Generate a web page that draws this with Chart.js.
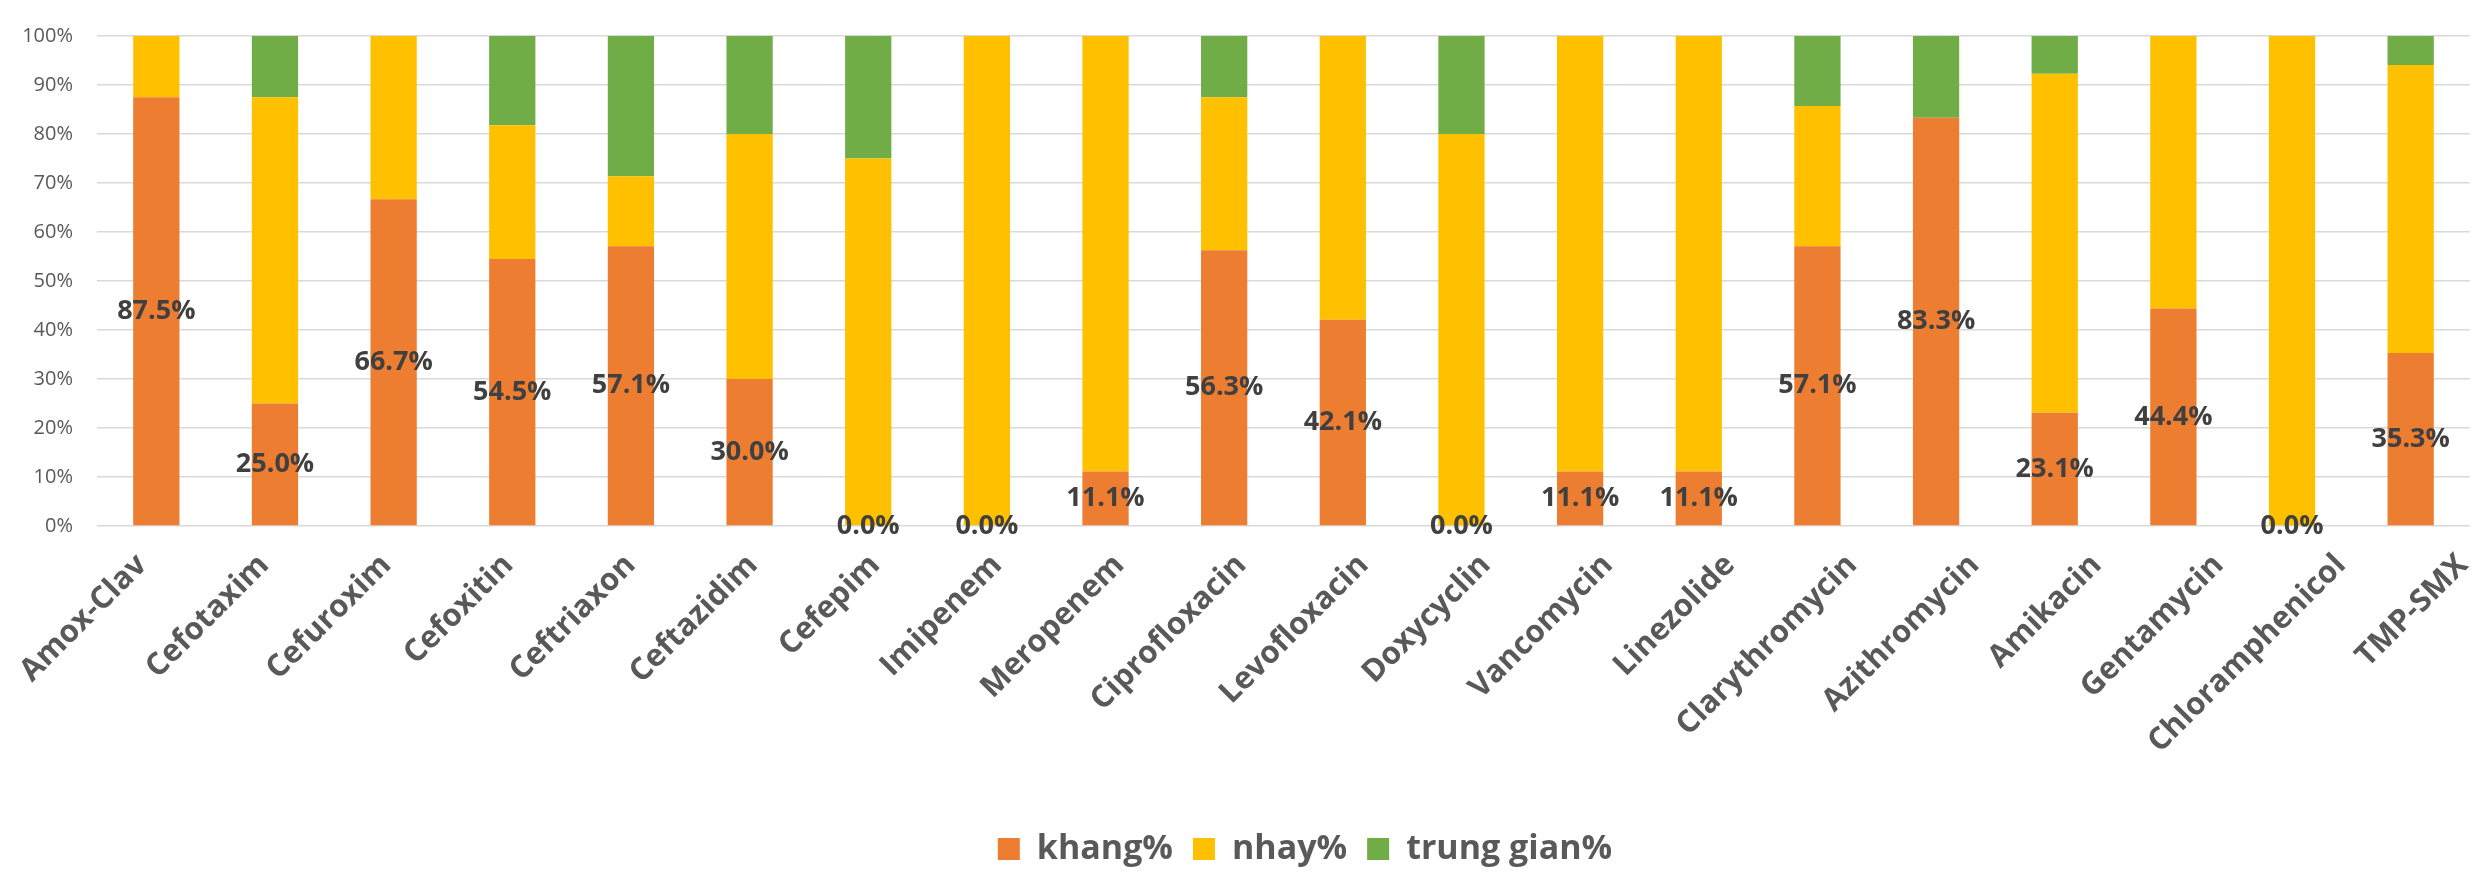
<!DOCTYPE html>
<html>
<head>
<meta charset="utf-8">
<script src="https://cdn.jsdelivr.net/npm/chart.js@4/dist/chart.umd.min.js"></script>
<style>
  html, body { margin: 0; padding: 0; background: #ffffff; }
  #wrap { width: 2483px; height: 880px; }
</style>
</head>
<body>
<div id="wrap"><canvas id="chart" width="2483" height="880"></canvas></div>
<script>
// Antibiotic susceptibility, share of isolates per drug (%)
const categories = [
  'Amox-Clav', 'Cefotaxim', 'Cefuroxim', 'Cefoxitin', 'Ceftriaxon', 'Ceftazidim',
  'Cefepim', 'Imipenem', 'Meropenem', 'Ciprofloxacin', 'Levofloxacin', 'Doxycyclin',
  'Vancomycin', 'Linezolide', 'Clarythromycin', 'Azithromycin', 'Amikacin',
  'Gentamycin', 'Chloramphenicol', 'TMP-SMX'
];
const khang = [87.5, 25.0, 66.7, 54.5, 57.1, 30.0, 0.0, 0.0, 11.1, 56.3, 42.1, 0.0, 11.1, 11.1, 57.1, 83.3, 23.1, 44.4, 0.0, 35.3];
const nhay = [12.5, 62.5, 33.3, 27.3, 14.3, 50.0, 75.0, 100.0, 88.9, 31.2, 57.9, 80.0, 88.9, 88.9, 28.6, 0.0, 69.2, 55.6, 100.0, 58.8];
const trungGian = [0.0, 12.5, 0.0, 18.2, 28.6, 20.0, 25.0, 0.0, 0.0, 12.5, 0.0, 20.0, 0.0, 0.0, 14.3, 16.7, 7.7, 0.0, 0.0, 5.9];
const yTicks = [0, 10, 20, 30, 40, 50, 60, 70, 80, 90, 100];

const FONT = "'Open Sans', 'DejaVu Sans', sans-serif";
const TEXT = '#595959';

// Value labels centred on each "khang%" segment
const segmentLabels = {
  id: 'segmentLabels',
  afterDatasetsDraw(chart) {
    const ctx = chart.ctx;
    const meta = chart.getDatasetMeta(0);
    const data = chart.data.datasets[0].data;
    ctx.save();
    ctx.font = 'bold 27px ' + FONT;
    ctx.fillStyle = '#404040';
    ctx.textAlign = 'center';
    ctx.textBaseline = 'middle';
    meta.data.forEach((bar, i) => {
      const y = (bar.y + bar.base) / 2;
      ctx.fillText(data[i].toFixed(1) + '%', bar.x, y);
    });
    ctx.restore();
  }
};

// Nudge the legend block to sit under the centre of the labelled area
const legendShift = {
  id: 'legendShift',
  afterLayout(chart) {
    const lg = chart.legend;
    if (lg) { lg.left += 70; lg.right += 70; }
  }
};

new Chart(document.getElementById('chart'), {
  type: 'bar',
  data: {
    labels: categories,
    datasets: [
      { label: 'khang%', data: khang, backgroundColor: '#ED7D31' },
      { label: 'nhay%', data: nhay, backgroundColor: '#FFC000' },
      { label: 'trung gian%', data: trungGian, backgroundColor: '#70AD47' }
    ]
  },
  options: {
    responsive: false,
    animation: false,
    events: [],
    layout: { padding: { top: 10, right: 13, left: 0, bottom: 4 } },
    datasets: { bar: { barPercentage: 0.39, categoryPercentage: 1.0, borderWidth: 0 } },
    scales: {
      // bar positions
      x: {
        stacked: true,
        display: false
      },
      // category names, on a slightly wider index axis than the bars
      names: {
        type: 'linear',
        position: 'bottom',
        offset: false,
        min: -0.368,
        max: 19.057,
        afterBuildTicks(scale) { scale.ticks = categories.map((c, i) => ({ value: i })); },
        grid: { display: false, offset: false },
        border: { display: false },
        ticks: {
          autoSkip: false,
          minRotation: 45,
          maxRotation: 45,
          padding: 13,
          color: TEXT,
          font: { family: FONT, size: 31, weight: 'bold' },
          callback: v => categories[v]
        },
        afterFit(scale) {
          scale.height = 286;
          scale.paddingLeft = 0;
          scale.paddingRight = 0;
        }
      },
      y: {
        stacked: true,
        min: 0,
        max: 100,
        afterBuildTicks(scale) { scale.ticks = yTicks.map(v => ({ value: v })); },
        grid: { color: '#d9d9d9', lineWidth: 1.5, drawTicks: false },
        border: { display: false },
        ticks: {
          padding: 24,
          color: TEXT,
          font: { family: FONT, size: 20 },
          callback: v => v + '%'
        },
        afterFit(scale) { scale.width = 97; }
      }
    },
    plugins: {
      legend: {
        position: 'bottom',
        labels: {
          color: TEXT,
          font: { family: FONT, size: 34, weight: 'bold' },
          boxWidth: 22,
          boxHeight: 22,
          padding: 20
        }
      },
      tooltip: { enabled: false }
    }
  },
  plugins: [segmentLabels, legendShift]
});
</script>
</body>
</html>
